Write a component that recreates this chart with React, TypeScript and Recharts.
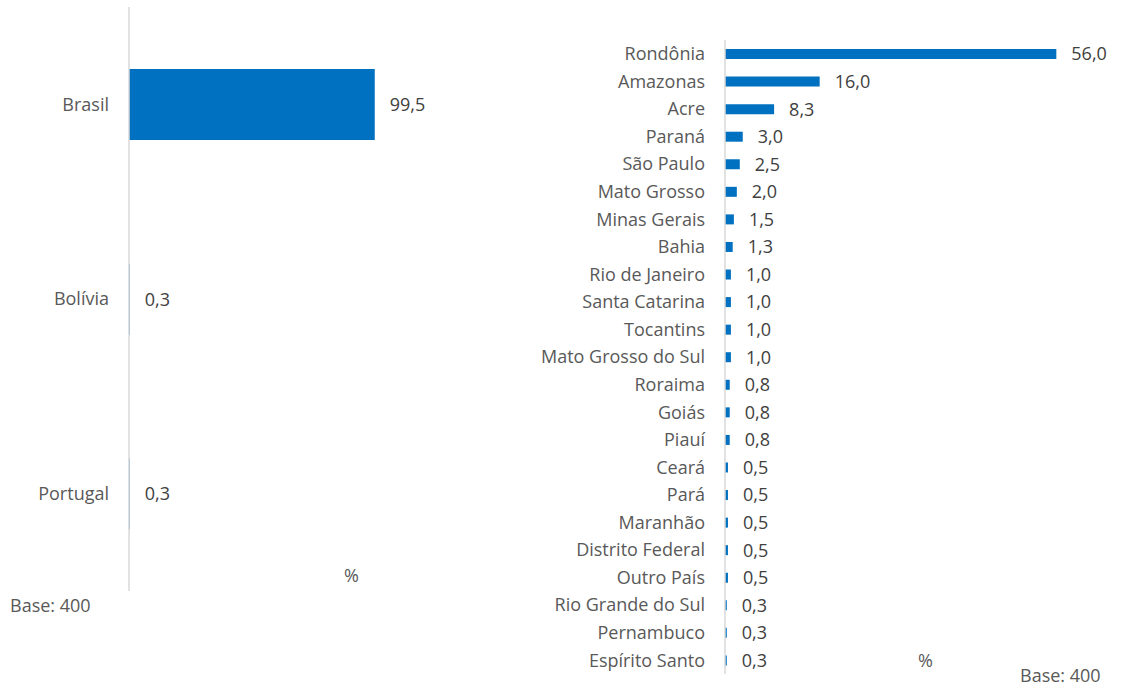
import React from "react";
import { BarChart, Bar, XAxis, YAxis, LabelList } from "recharts";

const countryCategories = ["Brasil", "Bolívia", "Portugal"];
const countryValues = [99.5, 0.3, 0.3];

const stateCategories = [
  "Rondônia", "Amazonas", "Acre", "Paraná", "São Paulo", "Mato Grosso",
  "Minas Gerais", "Bahia", "Rio de Janeiro", "Santa Catarina", "Tocantins",
  "Mato Grosso do Sul", "Roraima", "Goiás", "Piauí", "Ceará", "Pará",
  "Maranhão", "Distrito Federal", "Outro País", "Rio Grande do Sul",
  "Pernambuco", "Espírito Santo",
];
const stateValues = [
  56.0, 16.0, 8.3, 3.0, 2.5, 2.0, 1.5, 1.3, 1.0, 1.0, 1.0, 1.0, 0.8, 0.8,
  0.8, 0.5, 0.5, 0.5, 0.5, 0.5, 0.3, 0.3, 0.3,
];

const unitLabel = "%";
const baseLabel = "Base: 400";

const FONT = "'Open Sans', sans-serif";
const BLUE = "#0070C0";
const TICK = "#595959";
const LABEL = "#404040";
const AXIS = "#D9D9D9";

const countryData = countryCategories.map((name, i) => ({ name, value: countryValues[i] }));
const stateData = stateCategories.map((name, i) => ({ name, value: stateValues[i] }));

const fmt = (v: any) => Number(v).toFixed(1).replace(".", ",");

const textStyle = (left: number, centerY: number, extra: React.CSSProperties = {}): React.CSSProperties => ({
  position: "absolute",
  left,
  top: centerY - 12,
  height: 24,
  lineHeight: "24px",
  fontFamily: FONT,
  fontSize: 18,
  color: TICK,
  whiteSpace: "nowrap",
  ...extra,
});

export default function App() {
  return (
    <div style={{ position: "absolute", left: 0, top: 0, width: 1121, height: 688, background: "#fff", fontFamily: FONT, overflow: "hidden" }}>
      <div style={{ position: "absolute", left: 0, top: 0 }}>
        <BarChart
          width={450}
          height={600}
          data={countryData}
          layout="vertical"
          margin={{ top: 7, right: 74, bottom: 9, left: 0 }}
        >
          <XAxis type="number" domain={[0, 100]} hide />
          <YAxis
            type="category"
            dataKey="name"
            width={129}
            axisLine={{ stroke: AXIS, strokeWidth: 1.5 }}
            tickLine={false}
            tickSize={0}
            tickMargin={20}
            tick={{ fill: TICK, fontSize: 18, fontFamily: FONT }}
          />
          <Bar dataKey="value" fill={BLUE} barSize={71} isAnimationActive={false}>
            <LabelList
              dataKey="value"
              position="right"
              offset={15}
              formatter={fmt}
              style={{ fill: LABEL, fontSize: 18, fontFamily: FONT }}
            />
          </Bar>
        </BarChart>
      </div>

      <div style={{ position: "absolute", left: 450, top: 0 }}>
        <BarChart
          width={671}
          height={688}
          data={stateData}
          layout="vertical"
          margin={{ top: 40, right: 41, bottom: 14, left: 0 }}
        >
          <XAxis type="number" domain={[0, 60]} hide />
          <YAxis
            type="category"
            dataKey="name"
            width={275}
            interval={0}
            axisLine={{ stroke: AXIS, strokeWidth: 1.5 }}
            tickLine={false}
            tickSize={0}
            tickMargin={20}
            tick={{ fill: TICK, fontSize: 18, fontFamily: FONT }}
          />
          <Bar dataKey="value" fill={BLUE} barSize={10} isAnimationActive={false}>
            <LabelList
              dataKey="value"
              position="right"
              offset={15}
              formatter={fmt}
              style={{ fill: LABEL, fontSize: 18, fontFamily: FONT }}
            />
          </Bar>
        </BarChart>
      </div>

      <div style={textStyle(344, 575)}>{unitLabel}</div>
      <div style={textStyle(10, 605)}>{baseLabel}</div>
      <div style={textStyle(918, 660)}>{unitLabel}</div>
      <div style={textStyle(1020, 675)}>{baseLabel}</div>
    </div>
  );
}
